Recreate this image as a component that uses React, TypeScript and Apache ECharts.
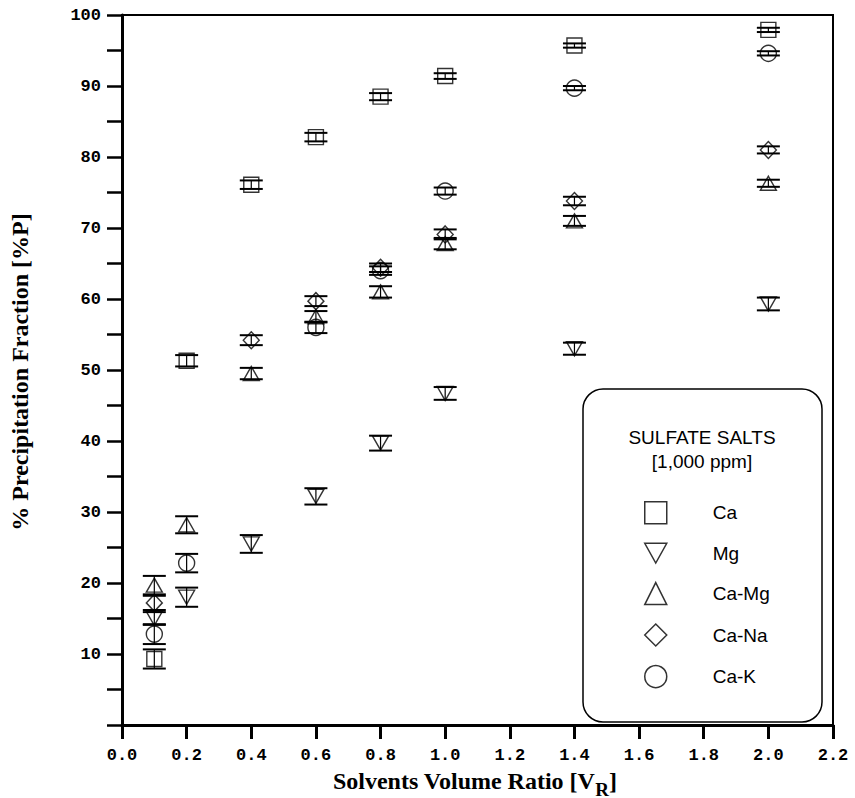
import React, { useEffect, useRef } from "react";
import * as echarts from "echarts";

const xValues = [0.1, 0.2, 0.4, 0.6, 0.8, 1.0, 1.4, 2.0];
const seriesNames = ["Ca", "Mg", "Ca-Mg", "Ca-Na", "Ca-K"];
const caValues = [9.3, 51.3, 76.1, 82.8, 88.5, 91.4, 95.7, 97.9];
const caErrors = [1.35, 0.8, 0.6, 0.6, 0.5, 0.4, 0.3, 0.3];
const mgValues = [15.0, 18.0, 25.5, 32.2, 39.7, 46.7, 53.0, 59.3];
const mgErrors = [0.9, 1.35, 1.25, 1.15, 1.05, 0.9, 0.85, 0.9];
const caMgValues = [19.7, 28.2, 49.5, 57.5, 61.0, 67.8, 71.0, 76.3];
const caMgErrors = [1.3, 1.2, 0.8, 0.8, 0.8, 0.8, 0.7, 0.5];
const caNaValues = [17.2, null, 54.2, 59.7, 64.4, 69.1, 73.8, 81.0];
const caNaErrors = [1.0, null, 0.7, 0.7, 0.6, 0.7, 0.6, 0.5];
const caKValues = [12.8, 22.8, null, 56.0, 64.0, 75.2, 89.7, 94.6];
const caKErrors = [1.4, 1.3, null, 0.8, 0.6, 0.5, 0.3, 0.3];

const legendTitle = "SULFATE SALTS";
const legendSubtitle = "[1,000 ppm]";
const xTitleMain = "Solvents Volume Ratio [V";
const xTitleSub = "R";
const xTitleEnd = "]";
const yTitle = "% Precipitation Fraction [%P]";

const DOWN_TRI = "path://M0,0L20,0L10,18Z";

export default function App() {
  const ref = useRef<HTMLDivElement>(null);
  useEffect(() => {
    if (!ref.current) return;
    const chart = echarts.init(ref.current, null, { renderer: "svg" });

    const valueSets = [caValues, mgValues, caMgValues, caNaValues, caKValues];
    const errorSets = [caErrors, mgErrors, caMgErrors, caNaErrors, caKErrors];
    const symbols: any[] = ["rect", DOWN_TRI, "triangle", "diamond", "circle"];
    const sizes: any[] = [15, [16, 14], [16, 14], [16, 17], 16];

    const scatterSeries = seriesNames.map((name, i) => ({
      name,
      type: "scatter",
      symbol: symbols[i],
      symbolSize: sizes[i],
      z: 3,
      itemStyle: { color: "rgba(255,255,255,0)", borderColor: "#000", borderWidth: 1.4 },
      data: xValues
        .map((x, j) => (valueSets[i][j] == null ? null : [x, valueSets[i][j]]))
        .filter((d) => d !== null),
    }));

    const errData: number[][] = [];
    valueSets.forEach((vals, i) => {
      vals.forEach((v, j) => {
        const e = errorSets[i][j];
        if (v != null && e != null) errData.push([xValues[j], v - e, v + e]);
      });
    });

    const errorSeries = {
      name: "errors",
      type: "custom",
      z: 2,
      silent: true,
      data: errData,
      renderItem: (params: any, api: any) => {
        const x = api.value(0);
        const lo = api.coord([x, api.value(1)]);
        const hi = api.coord([x, api.value(2)]);
        const hw = 11.5;
        return {
          type: "group",
          children: [
            { type: "line", shape: { x1: lo[0], y1: lo[1], x2: hi[0], y2: hi[1] }, style: { stroke: "#000", lineWidth: 1.2 } },
            { type: "line", shape: { x1: lo[0] - hw, y1: lo[1], x2: lo[0] + hw, y2: lo[1] }, style: { stroke: "#000", lineWidth: 2 } },
            { type: "line", shape: { x1: hi[0] - hw, y1: hi[1], x2: hi[0] + hw, y2: hi[1] }, style: { stroke: "#000", lineWidth: 2 } },
          ],
        };
      },
    };

    const ctx = document.createElement("canvas").getContext("2d")!;
    ctx.font = 'bold 24px "Liberation Serif"';
    const w1 = ctx.measureText(xTitleMain).width;
    const w3 = ctx.measureText(xTitleEnd).width;
    ctx.font = 'bold 19px "Liberation Serif"';
    const w2 = ctx.measureText(xTitleSub).width;
    const total = w1 + w2 + w3;
    const xCenter = 475;
    const xLeft = xCenter - total / 2;
    const xTitleY = 781;

    const serifBold = { fontFamily: "Liberation Serif", fontWeight: "bold", fill: "#000" };
    const labelFont = { fontFamily: "Liberation Mono", fontWeight: "bold", fontSize: 17, color: "#000" };

    chart.setOption({
      animation: false,
      backgroundColor: "#fff",
      grid: { left: 122, right: 22, top: 15, bottom: 73, show: true, borderColor: "#000", borderWidth: 2 },
      xAxis: {
        type: "value",
        min: 0,
        max: 2.2,
        interval: 0.2,
        splitLine: { show: false },
        axisLine: { lineStyle: { color: "#000", width: 3 } },
        axisTick: { length: 14, lineStyle: { color: "#000", width: 3 } },
        axisLabel: { ...labelFont, margin: 22, formatter: (v: number) => v.toFixed(1) },
      },
      yAxis: {
        type: "value",
        min: 0,
        max: 100,
        interval: 5,
        splitLine: { show: false },
        axisLine: { lineStyle: { color: "#000", width: 3 } },
        axisTick: { length: 15, lineStyle: { color: "#000", width: 2.5 } },
        axisLabel: {
          ...labelFont,
          margin: 21,
          formatter: (v: number) => (v % 10 === 0 && v !== 0 ? String(v) : ""),
        },
      },
      legend: {
        data: seriesNames,
        orient: "vertical",
        left: 644,
        top: 501,
        padding: 0,
        itemWidth: 22,
        itemHeight: 22,
        itemGap: 18,
        itemStyle: { color: "rgba(255,255,255,0)", borderColor: "#000", borderWidth: 1.5 },
        textStyle: { fontFamily: "Liberation Sans", fontSize: 19, color: "#000", padding: [0, 0, 0, 41] },
      },
      graphic: [
        {
          type: "rect",
          shape: { x: 583, y: 389, width: 239, height: 333, r: 20 },
          style: { fill: "#fff", stroke: "#000", lineWidth: 1.5 },
          z: 1,
        },
        {
          type: "text",
          x: 702,
          y: 437,
          z: 2,
          style: { text: legendTitle, fontFamily: "Liberation Sans", fontSize: 19, fill: "#000", align: "center", verticalAlign: "middle" },
        },
        {
          type: "text",
          x: 702,
          y: 461,
          z: 2,
          style: { text: legendSubtitle, fontFamily: "Liberation Sans", fontSize: 19, fill: "#000", align: "center", verticalAlign: "middle" },
        },
        {
          type: "text",
          x: xLeft,
          y: xTitleY,
          style: { ...serifBold, text: xTitleMain, fontSize: 24, align: "left", verticalAlign: "middle" },
        },
        {
          type: "text",
          x: xLeft + w1,
          y: xTitleY + 8,
          style: { ...serifBold, text: xTitleSub, fontSize: 19, align: "left", verticalAlign: "middle" },
        },
        {
          type: "text",
          x: xLeft + w1 + w2,
          y: xTitleY,
          style: { ...serifBold, text: xTitleEnd, fontSize: 24, align: "left", verticalAlign: "middle" },
        },
        {
          type: "text",
          x: 20,
          y: 372,
          rotation: Math.PI / 2,
          style: { ...serifBold, text: yTitle, fontSize: 24, align: "center", verticalAlign: "middle" },
        },
      ],
      series: [errorSeries, ...scatterSeries],
    });
    return () => chart.dispose();
  }, []);
  return <div ref={ref} style={{ width: 855, height: 798, position: "absolute", left: 0, top: 0 }} />;
}
